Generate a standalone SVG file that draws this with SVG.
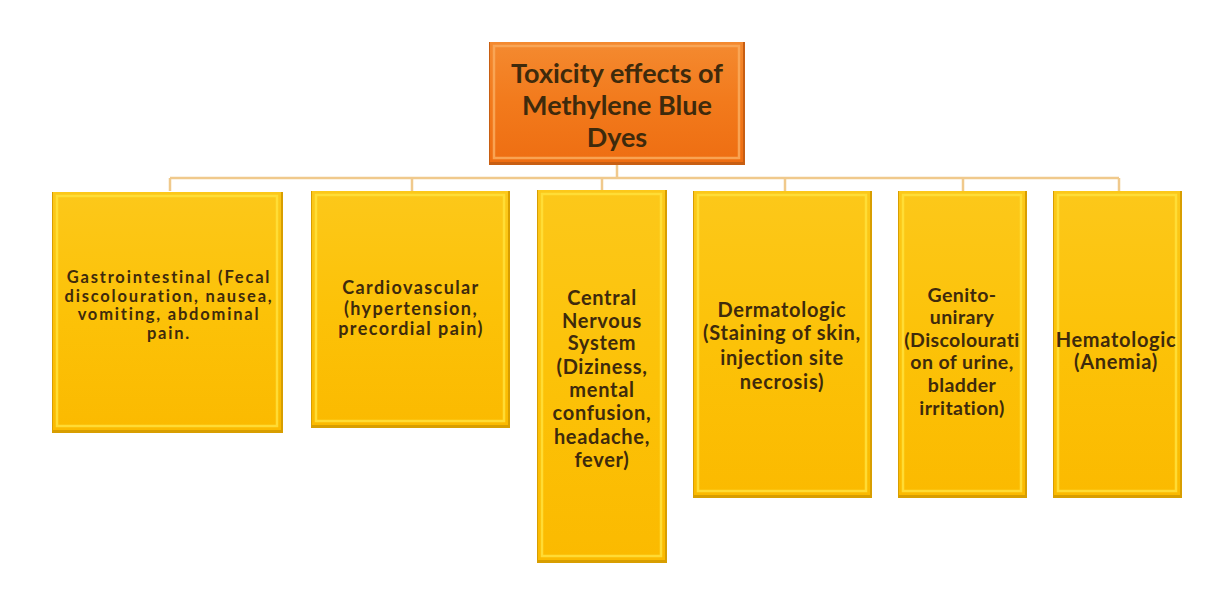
<svg xmlns="http://www.w3.org/2000/svg" width="1215" height="591" viewBox="0 0 1215 591">
<defs>
<linearGradient id="gy" x1="0" y1="0" x2="0" y2="1">
<stop offset="0" stop-color="#fcc81a"/>
<stop offset="0.5" stop-color="#fcc208"/>
<stop offset="1" stop-color="#fbba00"/>
</linearGradient>
<linearGradient id="go" x1="0" y1="0" x2="0" y2="1">
<stop offset="0" stop-color="#f48a30"/>
<stop offset="0.5" stop-color="#f27a1c"/>
<stop offset="1" stop-color="#ee6e12"/>
</linearGradient>
</defs>
<style>
.edge{fill:#d89e00}
.face{fill:url(#gy)}
.hl{fill:none;stroke:#ffdf3a;stroke-width:2.5;opacity:0.9}
.oedge{fill:#c85e12}
.oface{fill:url(#go)}
.ohl{fill:none;stroke:#f9a85a;stroke-width:2.5;opacity:0.9}
.conn{fill:none;stroke:#f0c98c;stroke-width:2.5}
text{font-family:Lato,"Open Sans","Liberation Sans",sans-serif;font-weight:bold;fill:#3e2a0c;text-anchor:middle}
.t{font-size:27px}
.g{font-size:16.5px;letter-spacing:1.8px}
.c{font-size:18px;letter-spacing:1.4px}
.s{font-size:20px;letter-spacing:0.7px}
.n{font-size:19.5px;letter-spacing:0.4px}
</style>
<rect width="1215" height="591" fill="#ffffff"/>
<g id="connectors">
<path class="conn" d="M617 165 V178 M170 178 H1119 M170 178 V191 M412 178 V191 M602 178 V190 M785 178 V191 M963 178 V191 M1119 178 V191"/>
</g>
<g id="root">
<rect class="oedge" x="489" y="42" width="256" height="123"/>
<rect class="oface" x="490" y="42" width="253" height="120"/>
<rect class="ohl" x="494" y="46" width="245" height="112"/>
<text class="t" x="617" y="83">Toxicity effects of</text>
<text class="t" x="617" y="115">Methylene Blue</text>
<text class="t" x="617" y="147">Dyes</text>
</g>
<g id="gastro">
<rect class="edge" x="52" y="192" width="231" height="241"/>
<rect class="face" x="53" y="192" width="228" height="238"/>
<rect class="hl" x="57" y="196" width="220" height="230"/>
<text class="g" x="169" y="283">Gastrointestinal (Fecal</text>
<text class="g" x="169" y="301.5">discolouration, nausea,</text>
<text class="g" x="169" y="320">vomiting, abdominal</text>
<text class="g" x="169" y="338.5">pain.</text>
</g>
<g id="cardio">
<rect class="edge" x="311" y="191" width="199" height="237"/>
<rect class="face" x="312" y="191" width="196" height="234"/>
<rect class="hl" x="316" y="195" width="188" height="226"/>
<text class="c" x="411" y="294">Cardiovascular</text>
<text class="c" x="411" y="314.5">(hypertension,</text>
<text class="c" x="411" y="335">precordial pain)</text>
</g>
<g id="cns">
<rect class="edge" x="537" y="190" width="130" height="373"/>
<rect class="face" x="538" y="190" width="127" height="370"/>
<rect class="hl" x="542" y="194" width="119" height="362"/>
<text class="s" x="602" y="305">Central</text>
<text class="s" x="602" y="328">Nervous</text>
<text class="s" x="602" y="350">System</text>
<text class="s" x="602" y="374">(Diziness,</text>
<text class="s" x="602" y="397">mental</text>
<text class="s" x="602" y="420">confusion,</text>
<text class="s" x="602" y="444">headache,</text>
<text class="s" x="602" y="467">fever)</text>
</g>
<g id="derma">
<rect class="edge" x="693" y="191" width="179" height="307"/>
<rect class="face" x="694" y="191" width="176" height="304"/>
<rect class="hl" x="698" y="195" width="168" height="296"/>
<text class="s" x="782" y="317">Dermatologic</text>
<text class="s" x="782" y="340">(Staining of skin,</text>
<text class="s" x="782" y="365">injection site</text>
<text class="s" x="782" y="389">necrosis)</text>
</g>
<g id="genito">
<rect class="edge" x="898" y="191" width="129" height="307"/>
<rect class="face" x="899" y="191" width="126" height="304"/>
<rect class="hl" x="903" y="195" width="118" height="296"/>
<text class="n" x="962" y="302">Genito-</text>
<text class="n" x="962" y="324">unirary</text>
<text class="n" x="962" y="347">(Discolourati</text>
<text class="n" x="962" y="369">on of urine,</text>
<text class="n" x="962" y="392">bladder</text>
<text class="n" x="962" y="415">irritation)</text>
</g>
<g id="hemato">
<rect class="edge" x="1053" y="191" width="129" height="307"/>
<rect class="face" x="1054" y="191" width="126" height="304"/>
<rect class="hl" x="1058" y="195" width="118" height="296"/>
<text class="s" x="1116" y="347">Hematologic</text>
<text class="s" x="1116" y="369">(Anemia)</text>
</g>
</svg>
